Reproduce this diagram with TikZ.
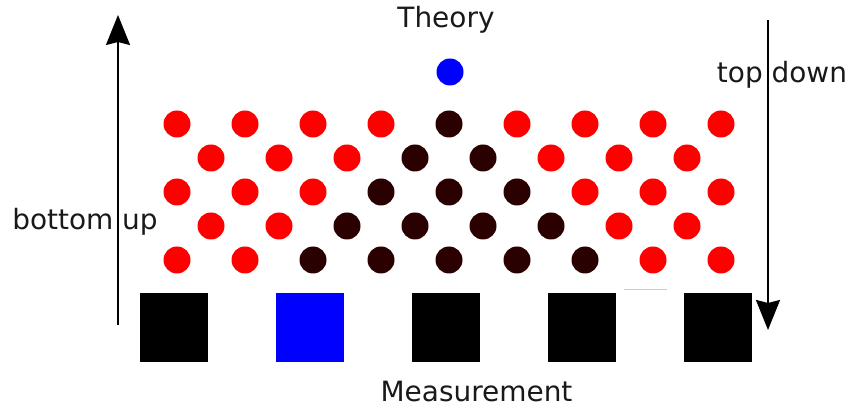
\documentclass[tikz,border=0pt]{standalone}
\usepackage{fontspec}
\setmainfont{DejaVu Sans}
\usetikzlibrary{arrows.meta}
\definecolor{darkdot}{HTML}{2B0000}
\definecolor{ghostline}{HTML}{C4C4FF}
\tikzset{
    dot/.style={circle, minimum size=0.54cm, inner sep=0pt, draw=none},
    meas/.style={rectangle, minimum width=1.36cm, minimum height=1.38cm,
                 inner sep=0pt, draw=none, fill=black},
    flow/.style={-{Stealth[length=0.6cm, width=0.48cm, inset=0.06cm]},
                 line width=0.04cm},
    label/.style={font=\fontsize{15.9}{19}\selectfont, anchor=base,
                  inner sep=0pt, text=black!90},
}

\begin{document}
\begin{tikzpicture}
    \useasboundingbox (0,0) rectangle (17,8.18);

    \node[label] (theory) at (8.92,7.62) {Theory};
    \node[dot, fill=blue] (top) at (9.0,6.74) {};

    % lattice, dark cone below the top
    \foreach \r in {0,...,4}{
        \pgfmathsetmacro{\yy}{5.70-0.68*\r}
        \pgfmathtruncatemacro{\odd}{mod(\r,2)}
        \pgfmathtruncatemacro{\ncol}{8-\odd}
        \foreach \k in {0,...,\ncol}{
            \pgfmathsetmacro{\xx}{3.54+0.68*\odd+1.36*\k}
            \pgfmathtruncatemacro{\cone}{abs(\xx-8.98)<0.68*\r+0.1}
            \ifnum\cone=1 \def\dotcol{darkdot}\else\def\dotcol{red}\fi
            \node[dot, fill=\dotcol] (d\r-\k) at (\xx,\yy) {};
        }
    }

    \node[meas] (m1) at (3.48,1.63) {};
    \node[meas, fill=blue] (m2) at (6.19,1.63) {};
    \node[meas] (m3) at (8.92,1.63) {};
    \node[meas] (m4) at (11.64,1.63) {};
    \node[meas] (m5) at (14.36,1.63) {};
    \draw[ghostline, line width=0.03cm] (12.48,2.39) -- (13.34,2.39);

    \node[label] (measurement) at (9.53,0.14) {Measurement};
    \node[label] (bottomup) at (1.70,3.58) {bottom up};
    \node[label] (topdown) at (15.64,6.52) {top down};

    \coordinate (upfrom) at (2.36,1.68);
    \coordinate (upto) at (2.36,7.88);
    \coordinate (downfrom) at (15.36,7.78);
    \coordinate (downto) at (15.36,1.58);
    \draw[flow] (upfrom) -- (upto);
    \draw[flow] (downfrom) -- (downto);

\end{tikzpicture}
\end{document}
